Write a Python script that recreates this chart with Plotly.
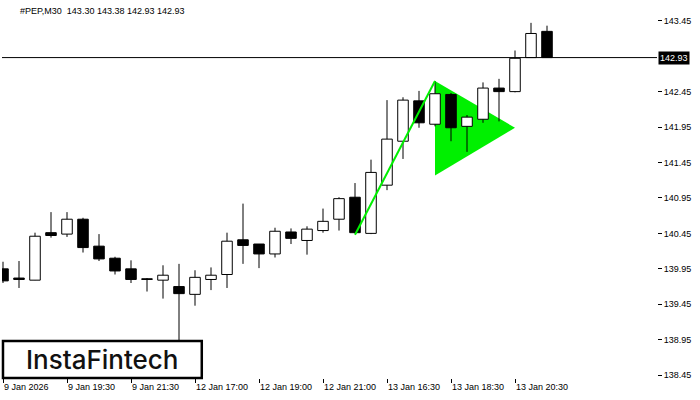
import plotly.graph_objects as go

symbol = "#PEP,M30"
times = ["9 Jan 17:30", "9 Jan 18:00", "9 Jan 18:30", "9 Jan 19:00", "9 Jan 19:30", "9 Jan 20:00",
         "9 Jan 20:30", "9 Jan 21:00", "9 Jan 21:30", "9 Jan 22:00", "9 Jan 22:30",
         "12 Jan 16:30", "12 Jan 17:00", "12 Jan 17:30", "12 Jan 18:00", "12 Jan 18:30",
         "12 Jan 19:00", "12 Jan 19:30", "12 Jan 20:00", "12 Jan 20:30", "12 Jan 21:00",
         "12 Jan 21:30", "12 Jan 22:00", "12 Jan 22:30",
         "13 Jan 16:30", "13 Jan 17:00", "13 Jan 17:30", "13 Jan 18:00", "13 Jan 18:30",
         "13 Jan 19:00", "13 Jan 19:30", "13 Jan 20:00", "13 Jan 20:30", "13 Jan 21:00", "13 Jan 21:30"]
opens = [139.95, 139.82, 139.79, 140.46, 140.44, 140.65, 140.27, 140.10, 139.95, 139.81,
         139.79, 139.70, 139.59, 139.80, 139.87, 140.36, 140.30, 140.16, 140.47, 140.35,
         140.49, 140.65, 140.96, 140.45, 141.13, 141.75, 142.32, 141.99, 142.41, 141.96,
         142.06, 142.50, 142.45, 142.93, 143.30]
highs = [140.05, 140.06, 140.46, 140.75, 140.75, 140.67, 140.44, 140.12, 140.07, 139.82,
         140.00, 140.02, 139.93, 139.97, 140.46, 140.87, 140.30, 140.53, 140.52, 140.55,
         140.80, 140.96, 141.16, 141.49, 142.33, 142.37, 142.46, 142.60, 142.43, 142.12,
         142.58, 142.63, 143.03, 143.42, 143.38]
lows = [139.75, 139.68, 139.79, 140.39, 140.40, 140.18, 140.06, 139.87, 139.75, 139.63,
        139.53, 138.90, 139.43, 139.65, 139.68, 140.02, 139.96, 140.11, 140.30, 140.15,
        140.46, 140.49, 140.45, 140.44, 141.06, 141.50, 141.94, 141.96, 141.75, 141.60,
        142.01, 142.03, 142.44, 142.93, 142.93]
closes = [139.78, 139.80, 140.41, 140.42, 140.65, 140.25, 140.09, 139.92, 139.80, 139.80,
          139.86, 139.60, 139.83, 139.86, 140.34, 140.28, 140.16, 140.48, 140.38, 140.51,
          140.62, 140.94, 140.46, 141.31, 141.78, 142.33, 142.01, 142.42, 141.94, 142.09,
          142.50, 142.45, 142.92, 143.27, 142.93]

tick_idx = [0, 4, 8, 12, 16, 20, 24, 28, 32]
tick_labels = ["9 Jan 2026", "9 Jan 19:30", "9 Jan 21:30", "12 Jan 17:00", "12 Jan 19:00",
               "12 Jan 21:00", "13 Jan 16:30", "13 Jan 18:30", "13 Jan 20:30"]
price_ticks = [138.45, 138.95, 139.45, 139.95, 140.45, 140.95, 141.45, 141.95, 142.45, 143.45]

# bullish pennant pattern
pole_idx = [22, 27]
pole_price = [140.43, 142.60]
flag_idx = [27, 27, 32, 27]
flag_price = [142.60, 141.265, 141.94, 142.60]

x = list(range(len(times)))
GREEN = "#00F000"
FONT = "Liberation Sans"

# derived candle geometry
body_base = [min(o, c) for o, c in zip(opens, closes)]
body_h = [max(abs(c - o), 0.008) for o, c in zip(opens, closes)]
body_col = ["white" if c > o else "black" for o, c in zip(opens, closes)]
wick_x, wick_y = [], []
for i, (h, l) in enumerate(zip(highs, lows)):
    wick_x += [i, i, None]
    wick_y += [l, h, None]

fig = go.Figure()
fig.add_trace(go.Scatter(x=flag_idx, y=flag_price, mode="lines", fill="toself",
                         fillcolor=GREEN, line=dict(color=GREEN, width=0), hoverinfo="skip",
                         zorder=0))
fig.add_trace(go.Scatter(x=wick_x, y=wick_y, mode="lines", line=dict(color="black", width=1),
                         hoverinfo="skip", zorder=1))
fig.add_trace(go.Bar(x=x, y=body_h, base=body_base, width=0.66, text=times, textposition="none",
                     marker=dict(color=body_col, line=dict(color="black", width=1)), zorder=2))
fig.add_trace(go.Scatter(x=pole_idx, y=pole_price, mode="lines",
                         line=dict(color=GREEN, width=2), hoverinfo="skip", zorder=3))

last = closes[-1]
fig.add_hline(y=last, line=dict(color="black", width=1))

fig.update_layout(
    width=700, height=400,
    margin=dict(l=2, r=43, t=3, b=22),
    paper_bgcolor="white", plot_bgcolor="white",
    showlegend=False,
    font=dict(family=FONT, size=9, color="black"),
    xaxis=dict(range=[-0.0625, 40.875], tickvals=tick_idx, ticktext=tick_labels,
               ticks="outside", ticklen=4, tickcolor="black", ticklabelposition="outside right",
               showgrid=False, zeroline=False, showline=True, linecolor="black", linewidth=1,
               mirror=True, fixedrange=True),
    yaxis=dict(range=[138.41, 143.70], side="right", tickvals=price_ticks, tickformat=".2f",
               ticks="outside", ticklen=4, tickcolor="black",
               showgrid=False, zeroline=False, showline=True, linecolor="black", linewidth=1,
               mirror=True, fixedrange=True),
)

fig.add_annotation(xref="paper", yref="y", x=1, y=last, text=f"{last:.2f}", showarrow=False,
                   xanchor="left", yanchor="middle", xshift=1, bgcolor="black",
                   font=dict(color="white", size=9, family=FONT), borderpad=1)

fig.add_annotation(xref="paper", yref="paper", x=0.0244, y=0.9787, xanchor="left", yanchor="middle",
                   text=f"{symbol}  {opens[-1]:.2f} {highs[-1]:.2f} {lows[-1]:.2f} {closes[-1]:.2f}",
                   showarrow=False, font=dict(size=9, family=FONT, color="black"))

fig.add_shape(type="rect", xref="paper", yref="paper", x0=0.0015, x1=0.305, y0=0.0, y1=0.0987,
              fillcolor="white", line=dict(color="black", width=2.5), layer="above")
fig.add_annotation(xref="paper", yref="paper", x=0.1527, y=0.049, xanchor="center", yanchor="middle",
                   text="InstaFintech", showarrow=False,
                   font=dict(size=26, family="Inter", color="#111111", weight=500))

fig.write_html("out.html", config={"displayModeBar": False},
               post_script="document.body.style.margin='0';document.body.style.overflow='hidden';")
